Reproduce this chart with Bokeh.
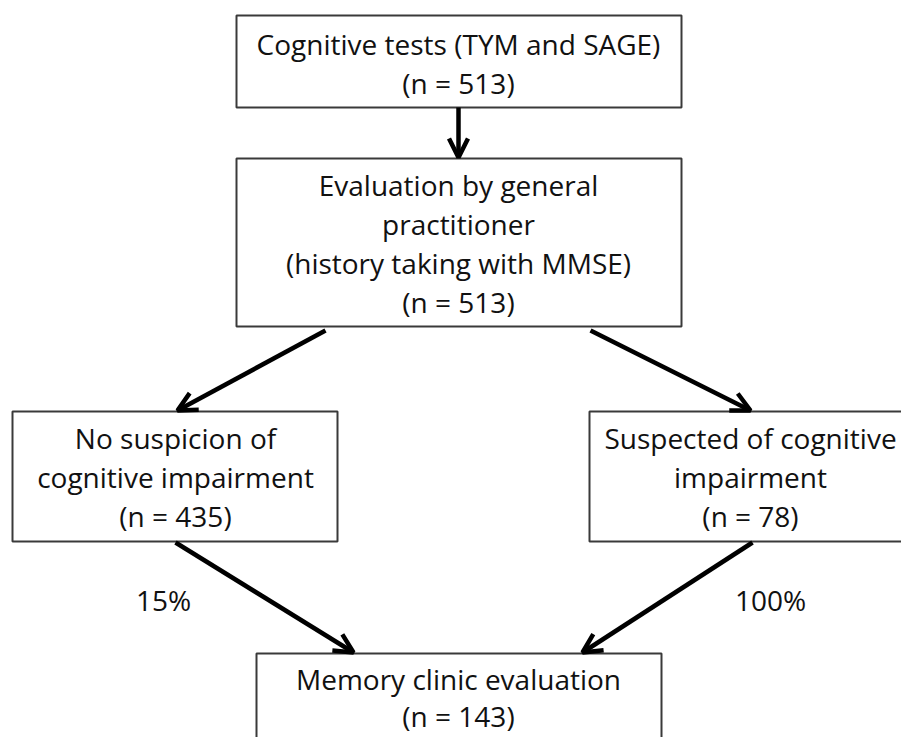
from bokeh.plotting import figure
from bokeh.models import Range1d, ColumnDataSource, Arrow, OpenHead
from bokeh.core.properties import value
from bokeh.embed import file_html
from bokeh.resources import INLINE

# ---- data ----
stage_labels = [
    ["Cognitive tests (TYM and SAGE)"],
    ["Evaluation by general", "practitioner", "(history taking with MMSE)"],
    ["No suspicion of", "cognitive impairment"],
    ["Suspected of cognitive", "impairment"],
    ["Memory clinic evaluation"],
]
stage_counts = [513, 513, 435, 78, 143]
referral_pcts = [15, 100]

# ---- layout (reference pixel space) ----
box_left = [236, 236, 12, 589, 256]
box_right = [681, 681, 337, 915, 661]
box_top = [15, 158, 411, 411, 653]
box_bottom = [107, 326, 541, 541, 790]
text_cx = [458, 458, 175, 750, 458]
first_baseline = [43, 184, 437, 437, 678]
line_gap = [39.3, 39.3, 39.3, 39.3, 37.5]

arrow_x0 = [458, 325, 590, 175, 752]
arrow_y0 = [107, 330, 330, 542, 542]
arrow_x1 = [458, 177, 750, 353, 582]
arrow_y1 = [157, 410, 410, 652, 652]

pct_x = [163, 770]
pct_y = [599, 599]

FONT = "Open Sans"
FS = "28px"

W, H = 901, 737
p = figure(width=W, height=H, x_range=Range1d(0, W), y_range=Range1d(H, 0),
           output_backend="svg", toolbar_location=None, min_border=0)
p.axis.visible = False
p.grid.visible = False
p.outline_line_color = None
p.background_fill_color = "white"
p.border_fill_color = "white"

p.quad(left=box_left, right=box_right, top=box_top, bottom=box_bottom,
       fill_color="white", line_color="#3a3a3a", line_width=2)

tx, ty, tt = [], [], []
for i, lines in enumerate(stage_labels):
    all_lines = lines + ["(n = %d)" % stage_counts[i]]
    for j, s in enumerate(all_lines):
        tx.append(text_cx[i])
        ty.append(first_baseline[i] + j * line_gap[i])
        tt.append(s)
p.text(x=tx, y=ty, text=tt, text_align="center", text_baseline="alphabetic",
       text_font=value(FONT), text_font_size=FS, text_color="#111111")

p.text(x=pct_x, y=pct_y, text=["%d%%" % v for v in referral_pcts],
       text_align="center", text_baseline="alphabetic",
       text_font=value(FONT), text_font_size=FS, text_color="#111111")

src = ColumnDataSource(dict(x0=arrow_x0, y0=arrow_y0, x1=arrow_x1, y1=arrow_y1))
p.add_layout(Arrow(end=OpenHead(size=19, line_width=4.5, line_color="black"),
                   x_start="x0", y_start="y0", x_end="x1", y_end="y1",
                   source=src, line_width=4.5, line_color="black"))

open("out.html", "w").write(file_html(p, INLINE))
